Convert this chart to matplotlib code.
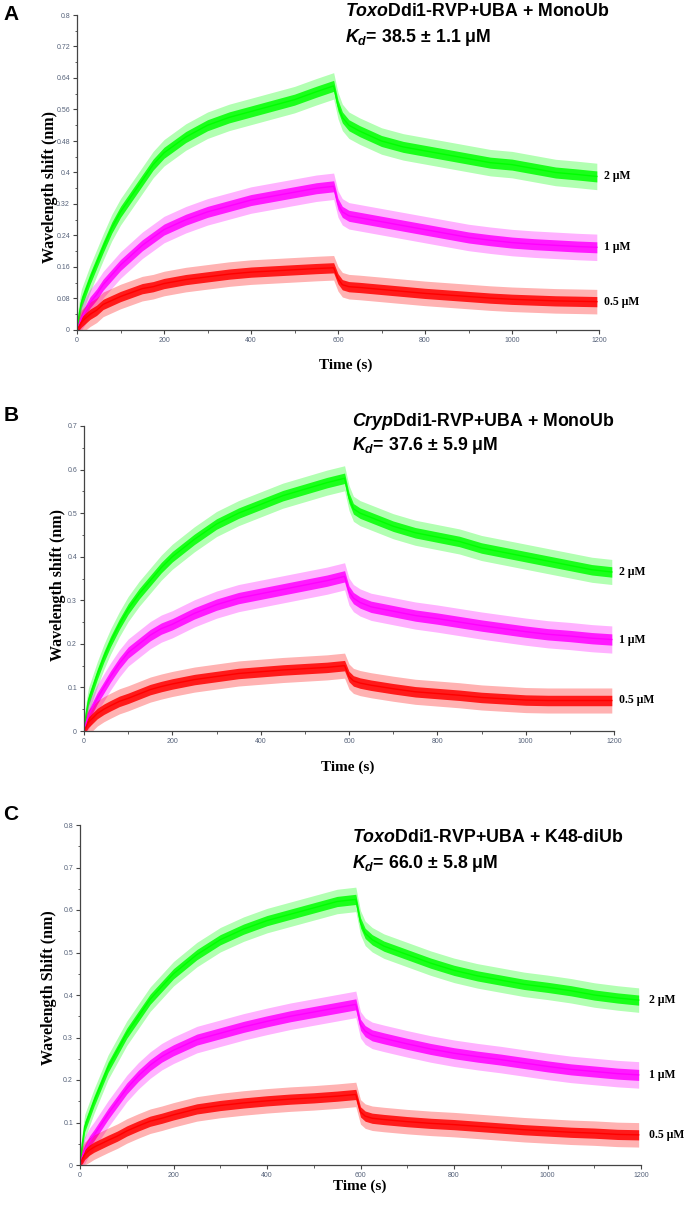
import numpy as np
import matplotlib
matplotlib.use("Agg")
import matplotlib.pyplot as plt
from matplotlib.ticker import MultipleLocator, FuncFormatter
from matplotlib import font_manager

plt.rcParams['mathtext.fontset'] = 'custom'
plt.rcParams['mathtext.it'] = 'Liberation Sans:italic:bold'
plt.rcParams['mathtext.rm'] = 'Liberation Sans:bold'
plt.rcParams['mathtext.bf'] = 'Liberation Sans:bold'

# ---------------- data ----------------
time_s = [0, 5, 10, 20, 30, 45, 60, 80, 100, 125, 150, 175, 200, 250, 300, 350, 400, 450, 500,
          550, 590, 600, 610, 625, 650, 700, 750, 800, 850, 900, 950, 1000, 1050, 1100, 1150, 1195]

concentrations = ["2 μM", "1 μM", "0.5 μM"]
trace_colors = ["#00ff00", "#ff00ff", "#ff0000"]

# Panel A: ToxoDdi1-RVP+UBA + MonoUb
a_2uM = [0.0, 0.04, 0.07, 0.10, 0.13, 0.17, 0.21, 0.26, 0.30, 0.34, 0.38, 0.42, 0.45, 0.49, 0.52,
         0.54, 0.555, 0.57, 0.585, 0.605, 0.62, 0.57, 0.54, 0.52, 0.505, 0.48, 0.465, 0.455, 0.445,
         0.435, 0.425, 0.42, 0.41, 0.40, 0.395, 0.39]
a_1uM = [0.0, 0.015, 0.03, 0.05, 0.07, 0.09, 0.115, 0.14, 0.165, 0.19, 0.215, 0.235, 0.255, 0.28,
         0.30, 0.315, 0.33, 0.34, 0.35, 0.36, 0.365, 0.32, 0.30, 0.29, 0.285, 0.275, 0.265, 0.255,
         0.245, 0.235, 0.228, 0.222, 0.218, 0.215, 0.212, 0.21]
a_05uM = [0.0, 0.01, 0.02, 0.03, 0.04, 0.05, 0.065, 0.075, 0.085, 0.095, 0.105, 0.11, 0.118, 0.128,
          0.135, 0.142, 0.147, 0.15, 0.153, 0.156, 0.158, 0.13, 0.115, 0.11, 0.108, 0.103, 0.098,
          0.093, 0.089, 0.085, 0.081, 0.078, 0.076, 0.074, 0.073, 0.072]

# Panel B: CrypDdi1-RVP+UBA + MonoUb
b_2uM = [0.0, 0.04, 0.07, 0.10, 0.13, 0.17, 0.205, 0.245, 0.28, 0.315, 0.345, 0.375, 0.40, 0.44,
         0.475, 0.50, 0.52, 0.54, 0.555, 0.57, 0.58, 0.535, 0.51, 0.50, 0.49, 0.47, 0.455, 0.445,
         0.435, 0.42, 0.41, 0.40, 0.39, 0.38, 0.37, 0.365]
b_1uM = [0.0, 0.02, 0.035, 0.055, 0.075, 0.10, 0.125, 0.155, 0.18, 0.20, 0.22, 0.235, 0.245, 0.27,
         0.29, 0.305, 0.315, 0.325, 0.335, 0.345, 0.355, 0.32, 0.305, 0.295, 0.285, 0.275, 0.265,
         0.258, 0.25, 0.242, 0.235, 0.228, 0.222, 0.218, 0.213, 0.21]
b_05uM = [0.0, 0.01, 0.02, 0.03, 0.04, 0.05, 0.058, 0.068, 0.075, 0.085, 0.095, 0.102, 0.108, 0.118,
          0.125, 0.132, 0.136, 0.14, 0.143, 0.146, 0.15, 0.125, 0.115, 0.11, 0.105, 0.097, 0.09,
          0.086, 0.082, 0.077, 0.074, 0.071, 0.07, 0.07, 0.07, 0.07]

# Panel C: ToxoDdi1-RVP+UBA + K48-diUb
c_2uM = [0.0, 0.05, 0.09, 0.12, 0.15, 0.19, 0.23, 0.27, 0.31, 0.35, 0.39, 0.42, 0.45, 0.495, 0.53,
         0.555, 0.575, 0.59, 0.605, 0.62, 0.625, 0.57, 0.545, 0.53, 0.515, 0.495, 0.475, 0.458,
         0.445, 0.435, 0.425, 0.418, 0.41, 0.40, 0.393, 0.388]
c_1uM = [0.0, 0.02, 0.035, 0.055, 0.07, 0.095, 0.12, 0.15, 0.18, 0.21, 0.235, 0.255, 0.27, 0.295,
         0.31, 0.325, 0.338, 0.35, 0.36, 0.37, 0.378, 0.33, 0.315, 0.305, 0.298, 0.285, 0.273,
         0.263, 0.255, 0.248, 0.24, 0.232, 0.225, 0.22, 0.215, 0.212]
c_05uM = [0.0, 0.015, 0.025, 0.035, 0.042, 0.05, 0.058, 0.068, 0.08, 0.092, 0.103, 0.11, 0.118,
          0.132, 0.14, 0.146, 0.151, 0.155, 0.158, 0.162, 0.166, 0.125, 0.115, 0.11, 0.107, 0.102,
          0.098, 0.095, 0.091, 0.087, 0.083, 0.08, 0.077, 0.075, 0.072, 0.071]

# visible noise half-width of each trace (nm), per panel
noise_a = [0.014, 0.014, 0.013]
noise_b = [0.012, 0.013, 0.012]
noise_c = [0.012, 0.013, 0.012]

panel_letters = ["A", "B", "C"]
titles_1 = [r"$Toxo$Ddi1-RVP+UBA + MonoUb", r"$Cryp$Ddi1-RVP+UBA + MonoUb",
            r"$Toxo$Ddi1-RVP+UBA + K48-diUb"]
titles_2 = [r"$K_d$= 38.5 ± 1.1 μM", r"$K_d$= 37.6 ± 5.9 μM", r"$K_d$= 66.0 ± 5.8 μM"]
ylabels = ["Wavelength shift (nm)", "Wavelength shift (nm)", "Wavelength Shift (nm)"]
xlabel = "Time (s)"
y_max = [0.8, 0.7, 0.8]
y_major = [0.08, 0.1, 0.1]

# ---------------- layout ----------------
W, H = 688, 1207
fig = plt.figure(figsize=(W / 100, H / 100), dpi=100)

def fx(px):
    return px / W

def fy(py):
    return 1 - py / H

# axes boxes in pixels: left, right, top, bottom
boxes = [(77, 599, 15, 330), (84, 614, 426, 731), (80, 641, 825, 1165)]
letter_pos = [(11, 15), (11, 416), (11, 815)]
title_pos = [(345, 12, 37), (352, 421, 445), (352, 838, 863)]
ylabel_pos = [(50, 187), (58, 585), (49, 988)]
xlabel_pos = [(346, 365), (348, 767), (360, 1186)]
conc_label_x = [1211, 1211, 1217]

series = [[a_2uM, a_1uM, a_05uM], [b_2uM, b_1uM, b_05uM], [c_2uM, c_1uM, c_05uM]]
noises = [noise_a, noise_b, noise_c]

t = np.array(time_s, dtype=float)
tick_color = "#56627a"
serif = ["Liberation Serif", "DejaVu Serif"]
installed = {f.name for f in font_manager.fontManager.ttflist}
tick_family = ["Liberation Sans Narrow"] if "Liberation Sans Narrow" in installed else ["Liberation Sans"]
tick_size = 5.5 if tick_family[0] == "Liberation Sans Narrow" else 5.0

for i in range(3):
    l, r, tp, bt = boxes[i]
    ax = fig.add_axes([fx(l), fy(bt), fx(r) - fx(l), fy(tp) - fy(bt)])
    ax.set_xlim(0, 1200)
    ax.set_ylim(0, y_max[i])
    for s in ["top", "right"]:
        ax.spines[s].set_visible(False)
    for s in ["left", "bottom"]:
        ax.spines[s].set_color("#444444")
        ax.spines[s].set_linewidth(0.9)
    ax.xaxis.set_major_locator(MultipleLocator(200))
    ax.xaxis.set_minor_locator(MultipleLocator(100))
    ax.yaxis.set_major_locator(MultipleLocator(y_major[i]))
    ax.yaxis.set_minor_locator(MultipleLocator(y_major[i] / 2))
    ax.yaxis.set_major_formatter(FuncFormatter(lambda v, p: "0" if abs(v) < 1e-9 else f"{v:g}"))
    ax.xaxis.set_major_formatter(FuncFormatter(lambda v, p: f"{v:.0f}"))
    ax.tick_params(which="major", length=3, width=0.8, color="#444444",
                   labelsize=tick_size, labelcolor=tick_color, pad=2)
    ax.tick_params(which="minor", length=1.8, width=0.6, color="#444444")
    for lab in ax.get_xticklabels() + ax.get_yticklabels():
        lab.set_family(tick_family)
    ax.patch.set_alpha(0)

    for vals, col, hw, lab in zip(series[i], trace_colors, noises[i], concentrations):
        v = np.array(vals)
        ax.fill_between(t, np.clip(v - 2.4 * hw, 0, None), v + 2.4 * hw, color=col,
                        alpha=0.3, lw=0)
        ax.fill_between(t, np.clip(v - hw, 0, None), v + hw, color=col, alpha=0.85, lw=0)
        ax.plot(t, v, color=col, lw=1.0)
        ax.text(conc_label_x[i], vals[-1], lab, fontsize=8.5, fontweight="bold",
                family=serif, va="center", ha="left", clip_on=False)

    # panel letter
    fig.text(fx(letter_pos[i][0]), fy(letter_pos[i][1]), panel_letters[i], fontsize=15,
             fontweight="bold", family=["Liberation Sans", "DejaVu Sans"],
             ha="center", va="center")
    # titles
    xt, y1, y2 = title_pos[i]
    fig.text(fx(xt), fy(y1), titles_1[i], fontsize=12.8, fontweight="bold",
             family=["Liberation Sans", "DejaVu Sans"], ha="left", va="center")
    fig.text(fx(xt), fy(y2), titles_2[i], fontsize=12.8, fontweight="bold",
             family=["Liberation Sans", "DejaVu Sans"], ha="left", va="center")
    # axis labels
    fig.text(fx(ylabel_pos[i][0]), fy(ylabel_pos[i][1]), ylabels[i], rotation=90,
             fontsize=11.5, fontweight="bold", family=serif, ha="center", va="center")
    fig.text(fx(xlabel_pos[i][0]), fy(xlabel_pos[i][1]), xlabel, fontsize=11,
             fontweight="bold", family=serif, ha="center", va="center")

fig.savefig("out.png", dpi=100)
